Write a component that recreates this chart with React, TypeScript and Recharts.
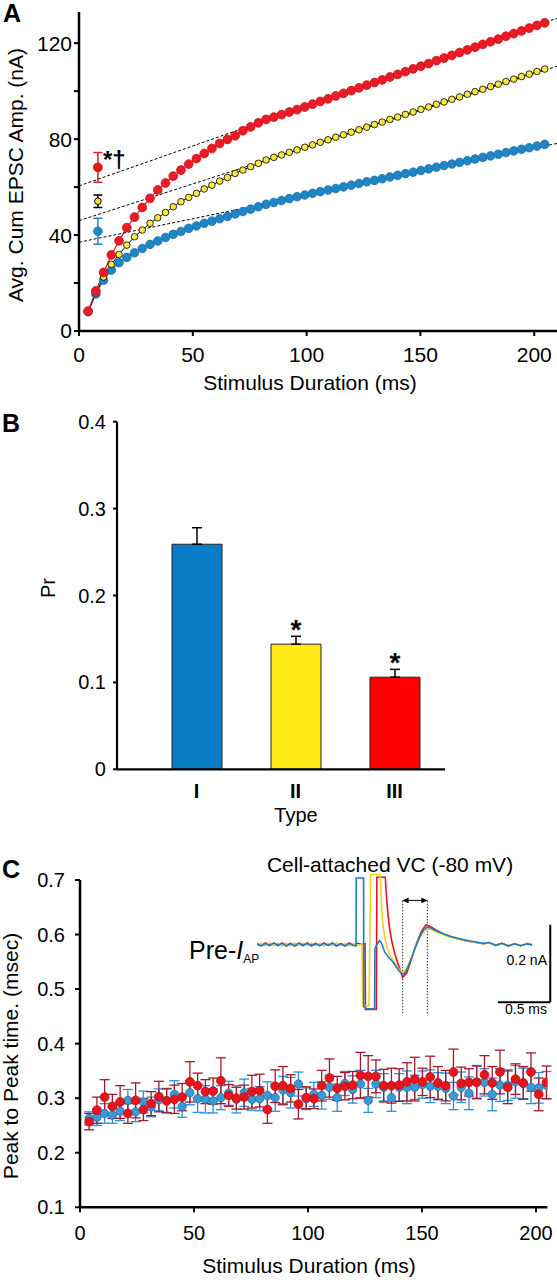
import React from 'react';
import {
  ComposedChart, Line, Scatter, XAxis, YAxis, ErrorBar, BarChart, Bar,
  LabelList, LineChart, ReferenceLine, Cell,
} from 'recharts';

const FONT = "'Liberation Sans', Arial, Helvetica, sans-serif";

// ---------- Panel A : cumulative EPSC amplitude ----------
const stimTimes = [
  4.0, 7.4, 10.8, 14.2, 17.6, 21.0, 24.4, 27.8, 31.2, 34.6,
  38.0, 41.4, 44.8, 48.2, 51.6, 55.0, 58.4, 61.8, 65.2, 68.6,
  72.0, 75.4, 78.8, 82.2, 85.6, 89.0, 92.4, 95.8, 99.2, 102.6,
  106.0, 109.4, 112.8, 116.2, 119.6, 123.0, 126.4, 129.8, 133.2, 136.6,
  140.0, 143.4, 146.8, 150.2, 153.6, 157.0, 160.4, 163.8, 167.2, 170.6,
  174.0, 177.4, 180.8, 184.2, 187.6, 191.0, 194.4, 197.8, 201.2, 204.6,
];
const cumRed = [
  8.3, 16.7, 24.4, 31.7, 37.6, 43.1, 47.5, 51.5, 55.3, 58.8,
  61.7, 64.6, 67.1, 69.6, 71.9, 74.0, 76.1, 78.2, 79.9, 81.4,
  83.5, 85.1, 86.8, 88.2, 89.2, 90.2, 91.3, 92.3, 93.4, 94.6,
  95.7, 96.8, 98.0, 99.1, 100.2, 101.4, 102.5, 103.6, 104.7, 105.9,
  107.0, 108.1, 109.3, 110.4, 111.5, 112.7, 113.8, 114.9, 116.1, 117.2,
  118.3, 119.5, 120.6, 121.7, 122.9, 124.0, 125.1, 126.3, 127.4, 128.5,
];
const cumYellow = [
  8.0, 15.8, 22.5, 27.8, 31.9, 35.8, 39.3, 42.1, 44.9, 47.2,
  49.4, 51.8, 53.9, 55.7, 57.4, 59.2, 60.8, 62.5, 64.0, 65.7,
  67.1, 68.5, 69.9, 71.3, 72.4, 73.4, 74.5, 75.5, 76.6, 77.6,
  78.7, 79.7, 80.8, 81.8, 82.9, 83.9, 85.0, 86.1, 87.1, 88.2,
  89.2, 90.3, 91.3, 92.4, 93.4, 94.5, 95.5, 96.6, 97.6, 98.7,
  99.8, 100.8, 101.9, 102.9, 104.0, 105.0, 106.1, 107.1, 108.2, 109.2,
];
const cumBlue = [
  8.0, 15.4, 21.2, 25.4, 28.5, 30.7, 32.6, 34.4, 36.1, 37.5,
  39.0, 40.3, 41.5, 42.8, 43.8, 44.9, 45.8, 46.8, 47.8, 48.8,
  49.8, 50.8, 51.8, 52.8, 53.6, 54.4, 55.2, 56.0, 56.7, 57.4,
  58.1, 58.8, 59.4, 60.1, 60.8, 61.5, 62.2, 62.8, 63.5, 64.2,
  64.9, 65.6, 66.2, 66.9, 67.6, 68.3, 69.0, 69.6, 70.3, 71.0,
  71.7, 72.4, 73.0, 73.7, 74.4, 75.1, 75.8, 76.4, 77.1, 77.8,
];
// linear back-extrapolation fits (end points)
const fitRed = [{ x: 0, y: 60.5 }, { x: 210, y: 130.4 }];
const fitYellow = [{ x: 0, y: 46.0 }, { x: 210, y: 110.4 }];
const fitBlue = [{ x: 0, y: 37.0 }, { x: 210, y: 78.2 }];
// y-intercept estimates (mean ± SEM)
const interceptRed = [{ x: 8.3, y: 68.2, err: 6.2 }];
const interceptYellow = [{ x: 8.3, y: 54.1, err: 2.6 }];
const interceptBlue = [{ x: 8.3, y: 41.6, err: 5.4 }];

// ---------- Panel B : Pr ----------
const prTypes = ['I', 'II', 'III'];
const prValues = [0.259, 0.144, 0.106];
const prErrors = [0.019, 0.009, 0.009];
const prSig = ['', '*', '*'];
const prColors = ['#0a7cc6', '#ffea14', '#ff0000'];

// ---------- Panel C : peak-to-peak time ----------
const p2pRed = [
  0.257, 0.278, 0.302, 0.285, 0.293, 0.272, 0.296, 0.279, 0.290, 0.303,
  0.295, 0.298, 0.302, 0.330, 0.323, 0.312, 0.313, 0.332, 0.305, 0.300,
  0.302, 0.312, 0.314, 0.279, 0.322, 0.323, 0.318, 0.289, 0.301, 0.299,
  0.323, 0.337, 0.318, 0.322, 0.324, 0.342, 0.340, 0.340, 0.323, 0.323,
  0.324, 0.330, 0.335, 0.330, 0.339, 0.328, 0.323, 0.348, 0.327, 0.329,
  0.329, 0.343, 0.328, 0.348, 0.320, 0.335, 0.328, 0.348, 0.307, 0.329,
];
const p2pRedErr = [
  0.015, 0.024, 0.032, 0.022, 0.030, 0.018, 0.032, 0.020, 0.022, 0.028,
  0.022, 0.026, 0.025, 0.037, 0.023, 0.022, 0.024, 0.042, 0.020, 0.020,
  0.022, 0.030, 0.030, 0.025, 0.030, 0.035, 0.025, 0.027, 0.020, 0.018,
  0.028, 0.035, 0.022, 0.025, 0.025, 0.042, 0.038, 0.030, 0.030, 0.032,
  0.030, 0.035, 0.040, 0.025, 0.038, 0.030, 0.028, 0.042, 0.030, 0.025,
  0.030, 0.035, 0.030, 0.040, 0.030, 0.028, 0.030, 0.035, 0.030, 0.030,
];
const p2pBlue = [
  0.263, 0.265, 0.272, 0.269, 0.276, 0.296, 0.275, 0.293, 0.284, 0.297,
  0.296, 0.307, 0.285, 0.310, 0.299, 0.298, 0.295, 0.301, 0.309, 0.298,
  0.310, 0.298, 0.299, 0.305, 0.301, 0.315, 0.310, 0.326, 0.299, 0.307,
  0.305, 0.320, 0.301, 0.327, 0.316, 0.326, 0.296, 0.326, 0.320, 0.301,
  0.320, 0.320, 0.320, 0.325, 0.322, 0.322, 0.318, 0.304, 0.320, 0.309,
  0.330, 0.329, 0.307, 0.324, 0.324, 0.330, 0.327, 0.320, 0.319, 0.324,
];
const p2pBlueErr = [
  0.012, 0.015, 0.018, 0.015, 0.017, 0.020, 0.018, 0.020, 0.018, 0.020,
  0.022, 0.025, 0.020, 0.022, 0.025, 0.025, 0.022, 0.022, 0.022, 0.025,
  0.025, 0.020, 0.022, 0.025, 0.025, 0.025, 0.028, 0.022, 0.020, 0.022,
  0.025, 0.022, 0.025, 0.022, 0.025, 0.025, 0.022, 0.025, 0.025, 0.025,
  0.025, 0.030, 0.022, 0.025, 0.030, 0.025, 0.028, 0.025, 0.028, 0.030,
  0.030, 0.025, 0.030, 0.030, 0.028, 0.030, 0.028, 0.030, 0.028, 0.025,
];

// ---------- Inset : Pre-I_AP traces (t in ms, current in nA) ----------
const traceRed = [
  [0.00, 0.001], [0.04, -0.003], [0.08, 0.004], [0.12, -0.002], [0.16, 0.003], [0.20, -0.003],
  [0.24, 0.004], [0.28, -0.002], [0.32, 0.003], [0.36, -0.004], [0.40, 0.002], [0.44, -0.003],
  [0.48, 0.004], [0.52, -0.002], [0.56, 0.003], [0.60, -0.003], [0.64, 0.004], [0.68, -0.002],
  [0.72, 0.003], [0.76, -0.004], [0.80, 0.002], [0.84, -0.003], [0.88, 0.004], [0.92, -0.002],
  [0.96, 0.003], [1.00, 0.000], [1.032, 0.002], [1.036, -0.168], [1.140, -0.168], [1.145, 0.174],
  [1.225, 0.174], [1.235, 0.130], [1.25, 0.080], [1.27, 0.035], [1.29, 0.005], [1.32, -0.028],
  [1.36, -0.060], [1.391, -0.085], [1.43, -0.074], [1.47, -0.042], [1.52, 0.000], [1.57, 0.034],
  [1.614, 0.051], [1.66, 0.046], [1.72, 0.036], [1.78, 0.027], [1.85, 0.020], [1.92, 0.014],
  [2.00, 0.009], [2.08, 0.006], [2.16, 0.002], [2.22, 0.004], [2.28, -0.002], [2.34, 0.003],
  [2.40, -0.003], [2.46, 0.002], [2.52, -0.003], [2.58, 0.002], [2.627, -0.001],
];
const traceYellow = [
  [0.00, -0.002], [0.04, 0.003], [0.08, -0.003], [0.12, 0.004], [0.16, -0.002], [0.20, 0.003],
  [0.24, -0.004], [0.28, 0.002], [0.32, -0.003], [0.36, 0.004], [0.40, -0.002], [0.44, 0.003],
  [0.48, -0.003], [0.52, 0.004], [0.56, -0.002], [0.60, 0.003], [0.64, -0.004], [0.68, 0.002],
  [0.72, -0.003], [0.76, 0.004], [0.80, -0.002], [0.84, 0.003], [0.88, -0.003], [0.92, 0.002],
  [0.96, -0.002], [1.003, 0.000], [1.008, -0.158], [1.070, -0.158], [1.085, 0.181], [1.178, 0.181],
  [1.188, 0.110], [1.20, 0.060], [1.22, 0.018], [1.245, -0.010], [1.27, -0.027], [1.31, -0.045],
  [1.35, -0.062], [1.391, -0.072], [1.43, -0.062], [1.47, -0.036], [1.52, -0.003], [1.57, 0.027],
  [1.624, 0.041], [1.66, 0.039], [1.72, 0.032], [1.78, 0.025], [1.85, 0.019], [1.92, 0.014],
  [2.00, 0.009], [2.08, 0.006], [2.16, 0.002], [2.22, 0.004], [2.28, -0.003], [2.34, 0.002],
  [2.40, -0.003], [2.46, 0.003], [2.52, -0.002], [2.58, 0.003], [2.627, 0.000],
];
const traceBlue = [
  [0.00, 0.002], [0.04, -0.004], [0.08, 0.003], [0.12, -0.003], [0.16, 0.004], [0.20, -0.002],
  [0.24, 0.003], [0.28, -0.004], [0.32, 0.002], [0.36, -0.003], [0.40, 0.004], [0.44, -0.002],
  [0.48, 0.003], [0.52, -0.004], [0.56, 0.002], [0.60, -0.003], [0.64, 0.003], [0.68, -0.002],
  [0.72, 0.004], [0.76, -0.003], [0.80, 0.002], [0.84, -0.004], [0.88, 0.003], [0.92, -0.002],
  [0.946, -0.004], [0.948, 0.172], [1.018, 0.172], [1.020, -0.160], [1.040, -0.166], [1.123, -0.166],
  [1.126, -0.010], [1.150, 0.002], [1.171, 0.010], [1.19, 0.003], [1.22, -0.020], [1.257, -0.033],
  [1.30, -0.046], [1.35, -0.066], [1.391, -0.078], [1.42, -0.071], [1.46, -0.047], [1.50, -0.016],
  [1.55, 0.017], [1.59, 0.038], [1.624, 0.045], [1.66, 0.043], [1.70, 0.037], [1.75, 0.031],
  [1.80, 0.025], [1.86, 0.020], [1.92, 0.016], [1.98, 0.012], [2.04, 0.009], [2.10, 0.006],
  [2.16, 0.003], [2.22, 0.005], [2.28, -0.002], [2.34, 0.003], [2.40, -0.004], [2.46, 0.002],
  [2.52, -0.003], [2.58, 0.002], [2.627, -0.001],
];
const peakMarks = [1.391, 1.627]; // trough / peak times (ms)
const scaleBarTime = [2.301, 2.801]; // 0.5 ms
const scaleBarCurrent = [-0.149, 0.051]; // 0.2 nA

// ---------- derived tables ----------
const toXY = (ys: number[]) => stimTimes.map((x, i) => ({ x, y: ys[i] }));
const toXYE = (ys: number[], es: number[]) => stimTimes.map((x, i) => ({ x, y: ys[i], err: es[i] }));
const toTrace = (arr: number[][]) => arr.map(([t, v]) => ({ t, v }));

const redData = toXY(cumRed);
const yellowData = toXY(cumYellow);
const blueData = toXY(cumBlue);
const prData = prTypes.map((type, i) => ({ type, pr: prValues[i], err: [0, prErrors[i]], sig: prSig[i] }));
const p2pRedData = toXYE(p2pRed, p2pRedErr);
const p2pBlueData = toXYE(p2pBlue, p2pBlueErr);

const axisStyle = { stroke: '#000', strokeWidth: 2.5 };
const tickLineStyle = { stroke: '#000', strokeWidth: 2 };

const renderSig = (props: any) => {
  const vb = props.viewBox || props;
  const { x, y, width, height } = vb;
  if (!props.value) return null;
  let idx = props.index;
  if (idx === undefined) idx = prSig.indexOf(props.value);
  const val = prValues[idx];
  const err = prErrors[idx];
  const pxPerUnit = height / val;
  const top = y - err * pxPerUnit;
  return (
    <text x={x + width / 2} y={top + 3} textAnchor="middle" fontSize={28} fontWeight="bold" fontFamily={FONT} fill="#000">
      {props.value}
    </text>
  );
};

const redDot = (p: any) => <circle cx={p.cx} cy={p.cy} r={4.4} fill="#e8141c" stroke="#b8101a" strokeWidth={0.8} />;
const blueDot = (p: any) => <circle cx={p.cx} cy={p.cy} r={4.2} fill="#3a9ad6" stroke="#1d6fa8" strokeWidth={0.8} />;

const titleStyle = { fontSize: 21, fill: '#000' };

export default function App() {
  return (
    <div style={{ position: 'absolute', left: 0, top: 0, width: 557, height: 1280, background: '#fff', overflow: 'hidden', fontFamily: FONT }}>
      <svg width={0} height={0} style={{ position: 'absolute' }}>
        <defs>
          <marker id="arrowHead" viewBox="0 0 10 10" refX="10" refY="5" markerWidth="7" markerHeight="6" orient="auto-start-reverse" markerUnits="userSpaceOnUse">
            <path d="M0,0 L10,5 L0,10 z" fill="#000" />
          </marker>
        </defs>
      </svg>

      {/* Panel A */}
      <div style={{ position: 'absolute', left: 0, top: 0 }}>
        <ComposedChart width={557} height={400} margin={{ top: 12, right: 0, bottom: 0, left: 0 }}>
          <XAxis type="number" dataKey="x" domain={[0, 210]} ticks={[0, 50, 100, 150, 200]} allowDataOverflow
            height={69} tickSize={5} tickMargin={11} axisLine={axisStyle} tickLine={tickLineStyle} interval={0}
            tick={{ fill: '#000', fontSize: 21, fontFamily: FONT }} />
          <YAxis type="number" domain={[0, 133]} ticks={[0, 20, 40, 60, 80, 100, 120]} allowDataOverflow
            width={79} tickSize={5} tickMargin={2} axisLine={axisStyle} tickLine={tickLineStyle} interval={0}
            tickFormatter={(v: number) => (v % 40 === 0 ? String(v) : '')}
            tick={{ fill: '#000', fontSize: 21, fontFamily: FONT }} />
          <Line data={blueData} dataKey="y" stroke="#1f82c3" strokeWidth={1.2} isAnimationActive={false}
            dot={{ r: 4.3, fill: '#1f86c6', stroke: '#1a6fa8', strokeWidth: 0.8 }} />
          <Line data={yellowData} dataKey="y" stroke="#000" strokeWidth={1} isAnimationActive={false}
            dot={{ r: 3.3, fill: '#f6e83c', stroke: '#000', strokeWidth: 0.8 }} />
          <Line data={redData} dataKey="y" stroke="#e8141c" strokeWidth={1.2} isAnimationActive={false}
            dot={{ r: 4.4, fill: '#ea1b23', stroke: '#c8101a', strokeWidth: 0.8 }} />
          <Line data={fitRed} dataKey="y" stroke="#000" strokeWidth={1} strokeDasharray="3 2" dot={false} isAnimationActive={false} />
          <Line data={fitYellow} dataKey="y" stroke="#000" strokeWidth={1} strokeDasharray="3 2" dot={false} isAnimationActive={false} />
          <Line data={fitBlue} dataKey="y" stroke="#000" strokeWidth={1} strokeDasharray="3 2" dot={false} isAnimationActive={false} />
          <Scatter data={interceptRed} dataKey="y" isAnimationActive={false} shape={redDot}>
            <ErrorBar dataKey="err" direction="y" width={4.5} stroke="#d0202a" strokeWidth={1.5} />
          </Scatter>
          <Scatter data={interceptYellow} dataKey="y" isAnimationActive={false}
            shape={(p: any) => <circle cx={p.cx} cy={p.cy} r={3.3} fill="#f6e83c" stroke="#000" strokeWidth={1} />}>
            <ErrorBar dataKey="err" direction="y" width={4.5} stroke="#000" strokeWidth={1.5} />
          </Scatter>
          <Scatter data={interceptBlue} dataKey="y" isAnimationActive={false}
            shape={(p: any) => <circle cx={p.cx} cy={p.cy} r={4.3} fill="#1f86c6" stroke="#1a6fa8" strokeWidth={0.8} />}>
            <ErrorBar dataKey="err" direction="y" width={4.5} stroke="#1f82c3" strokeWidth={1.5} />
          </Scatter>
        </ComposedChart>
      </div>

      {/* Panel B */}
      <div style={{ position: 'absolute', left: 0, top: 400 }}>
        <BarChart width={447} height={424.3} data={prData} margin={{ top: 21.7, right: 2, bottom: 0, left: 0 }}>
          <XAxis dataKey="type" padding={{ left: 30, right: 1 }} tickLine={false} tickSize={0} tickMargin={15}
            height={55} axisLine={{ stroke: '#000', strokeWidth: 2.2 }} interval={0}
            tick={{ fill: '#000', fontSize: 20, fontWeight: 'bold', fontFamily: FONT }} />
          <YAxis type="number" domain={[0, 0.4]} ticks={[0, 0.1, 0.2, 0.3, 0.4]} width={117} tickSize={4} tickMargin={7}
            axisLine={{ stroke: '#000', strokeWidth: 2.2 }} tickLine={tickLineStyle} interval={0}
            tickFormatter={(v: number) => (v === 0 ? '0' : v.toFixed(1))}
            tick={{ fill: '#000', fontSize: 20, fontFamily: FONT }} />
          <Bar dataKey="pr" barSize={50} stroke="#222" strokeWidth={1} isAnimationActive={false}>
            {prData.map((d, i) => <Cell key={d.type} fill={prColors[i]} />)}
            <ErrorBar dataKey="err" direction="y" width={5} stroke="#000" strokeWidth={1.5} />
            <LabelList dataKey="sig" content={renderSig} />
          </Bar>
        </BarChart>
      </div>

      {/* Panel C */}
      <div style={{ position: 'absolute', left: 0, top: 860 }}>
        <ComposedChart width={557} height={418.3} margin={{ top: 20, right: 9.6, bottom: 0, left: 0 }}>
          <XAxis type="number" dataKey="x" domain={[0, 205]} ticks={[0, 50, 100, 150, 200]} allowDataOverflow
            height={71} tickSize={5} tickMargin={14} axisLine={axisStyle} tickLine={tickLineStyle} interval={0}
            tick={{ fill: '#000', fontSize: 20, fontFamily: FONT }} />
          <YAxis type="number" domain={[0.1, 0.7]} ticks={[0.1, 0.2, 0.3, 0.4, 0.5, 0.6, 0.7]} allowDataOverflow
            width={80} tickSize={5} tickMargin={10} axisLine={axisStyle} tickLine={tickLineStyle} interval={0}
            tickFormatter={(v: number) => v.toFixed(1)}
            tick={{ fill: '#000', fontSize: 20, fontFamily: FONT }} />
          <Scatter data={p2pBlueData} dataKey="y" isAnimationActive={false} shape={blueDot}>
            <ErrorBar dataKey="err" direction="y" width={5} stroke="#2b8fd9" strokeWidth={1.3} />
          </Scatter>
          <Scatter data={p2pRedData} dataKey="y" isAnimationActive={false} shape={redDot}>
            <ErrorBar dataKey="err" direction="y" width={5} stroke="#a3182b" strokeWidth={1.3} />
          </Scatter>
        </ComposedChart>
      </div>

      {/* Inset traces */}
      <div style={{ position: 'absolute', left: 256.7, top: 870.5 }}>
        <LineChart width={298.4} height={147} margin={{ top: 0, right: 0, bottom: 0, left: 0 }}>
          <XAxis type="number" dataKey="t" domain={[0, 2.85]} hide allowDataOverflow />
          <YAxis type="number" domain={[-0.19, 0.19]} hide allowDataOverflow />
          <ReferenceLine segment={[{ x: peakMarks[0], y: -0.178 }, { x: peakMarks[0], y: 0.114 }]} stroke="#333" strokeWidth={1} strokeDasharray="1.5 1.5" />
          <ReferenceLine segment={[{ x: peakMarks[1], y: -0.178 }, { x: peakMarks[1], y: 0.114 }]} stroke="#333" strokeWidth={1} strokeDasharray="1.5 1.5" />
          <ReferenceLine segment={[{ x: peakMarks[0], y: 0.114 }, { x: peakMarks[1], y: 0.114 }]} stroke="#000" strokeWidth={1}
            markerStart="url(#arrowHead)" markerEnd="url(#arrowHead)" />
          <Line data={toTrace(traceRed)} dataKey="v" stroke="#e8141c" strokeWidth={1.6} dot={false} isAnimationActive={false} />
          <Line data={toTrace(traceYellow)} dataKey="v" stroke="#f2d21b" strokeWidth={1.6} dot={false} isAnimationActive={false} />
          <Line data={toTrace(traceBlue)} dataKey="v" stroke="#1a7cc4" strokeWidth={1.6} dot={false} isAnimationActive={false} />
          <ReferenceLine segment={[{ x: scaleBarTime[1], y: scaleBarCurrent[0] }, { x: scaleBarTime[1], y: scaleBarCurrent[1] }]} stroke="#000" strokeWidth={2} />
          <ReferenceLine segment={[{ x: scaleBarTime[0], y: scaleBarCurrent[0] }, { x: scaleBarTime[1], y: scaleBarCurrent[0] }]} stroke="#000" strokeWidth={2} />
        </LineChart>
      </div>

      {/* Text overlay: panel letters, axis titles, annotations */}
      <svg width={557} height={1280} style={{ position: 'absolute', left: 0, top: 0, pointerEvents: 'none' }} fontFamily={FONT}>
        <text x={3} y={22} fontSize={25} fontWeight="bold">A</text>
        <text x={2} y={432} fontSize={25} fontWeight="bold">B</text>
        <text x={2} y={878} fontSize={25} fontWeight="bold">C</text>

        <text transform="translate(22.5,175) rotate(-90)" textAnchor="middle" style={titleStyle}>Avg. Cum EPSC Amp. (nA)</text>
        <text x={310} y={390} textAnchor="middle" style={titleStyle}>Stimulus Duration (ms)</text>

        <text transform="translate(55,588) rotate(-90)" textAnchor="middle" style={{ fontSize: 20, fill: '#000' }}>Pr</text>
        <text x={296} y={822} textAnchor="middle" style={{ fontSize: 20, fill: '#000' }}>Type</text>

        <text transform="translate(18,1056) rotate(-90)" textAnchor="middle" style={titleStyle}>Peak to Peak time. (msec)</text>
        <text x={309} y={1273} textAnchor="middle" style={titleStyle}>Stimulus Duration (ms)</text>

        <text x={103} y={168} fontSize={24} fontWeight="bold">*†</text>
        <text x={390} y={872} fontSize={21} textAnchor="middle">Cell-attached VC (-80 mV)</text>
        <text x={189} y={959} fontSize={25}>
          Pre-<tspan fontStyle="italic">I</tspan><tspan fontSize={12} dy={4}>AP</tspan>
        </text>
        <text x={547} y={965} fontSize={14} textAnchor="end">0.2 nA</text>
        <text x={547} y={1014} fontSize={14} textAnchor="end">0.5 ms</text>
      </svg>
    </div>
  );
}
